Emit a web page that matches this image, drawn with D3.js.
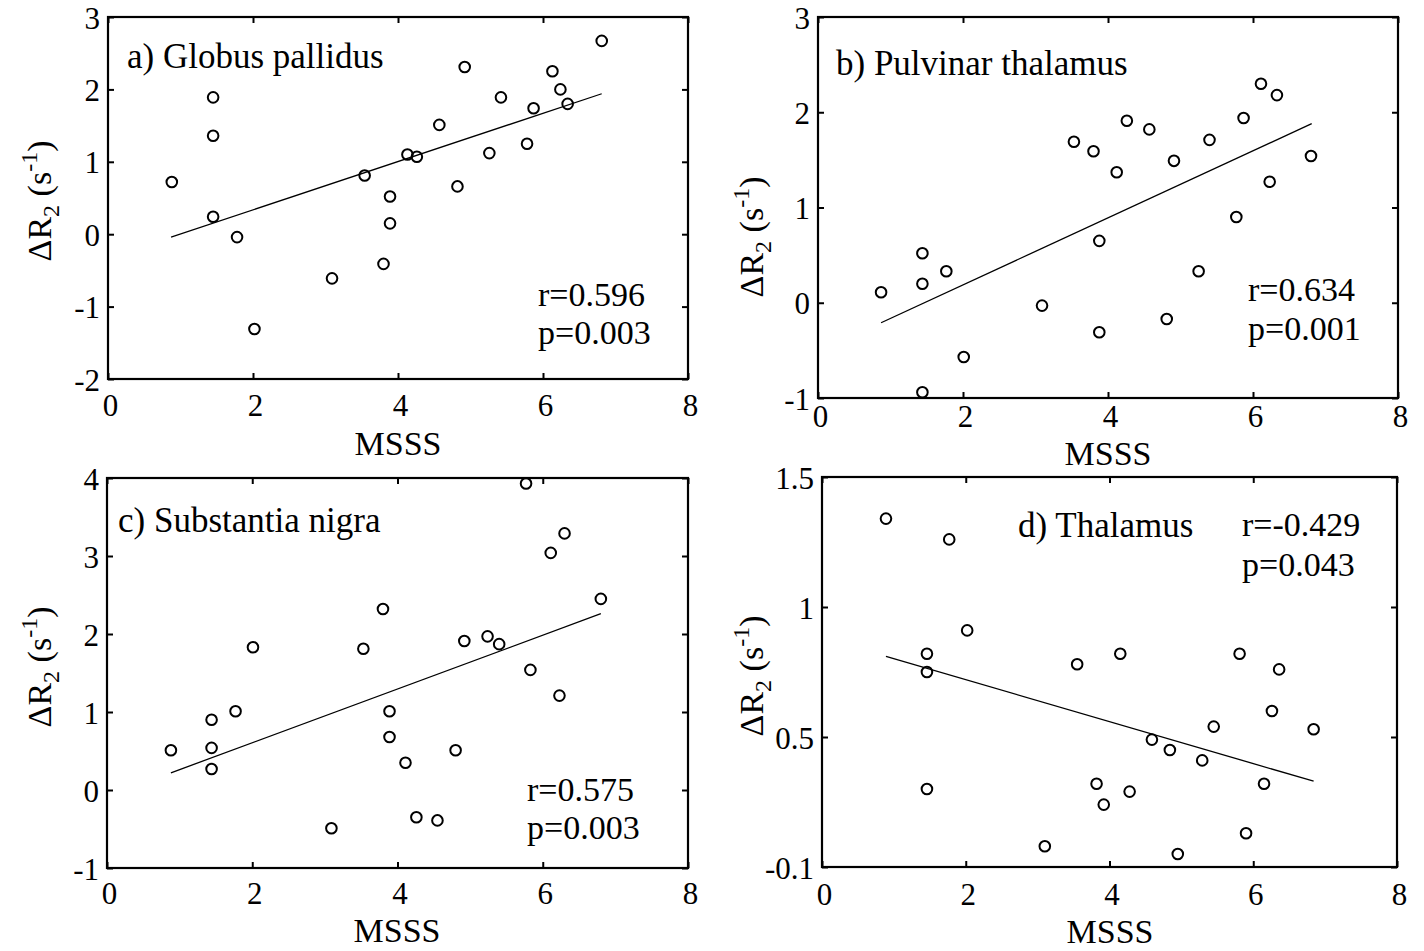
<!DOCTYPE html>
<html><head><meta charset="utf-8">
<script src="https://cdn.jsdelivr.net/npm/d3@7"></script>
<style>body{margin:0;background:#fff}svg text{font-family:"Liberation Serif","Times New Roman",serif;fill:#000}</style>
</head><body>
<svg id="chart" width="1424" height="951"></svg>
<script>
// ---------- data ----------
const xTicks = [0, 2, 4, 6, 8];
const xTickLabels = ["0", "2", "4", "6", "8"];

const yTicksA = [-2, -1, 0, 1, 2, 3];
const yTickLabelsA = ["-2", "-1", "0", "1", "2", "3"];
const yTicksB = [-1, 0, 1, 2, 3];
const yTickLabelsB = ["-1", "0", "1", "2", "3"];
const yTicksC = [-1, 0, 1, 2, 3, 4];
const yTickLabelsC = ["-1", "0", "1", "2", "3", "4"];
const yTicksD = [0, 0.5, 1, 1.5];
const yTickLabelsD = ["-0.1", "0.5", "1", "1.5"];

const msssA = [0.88,1.45,1.45,1.45,1.78,2.02,3.09,3.54,3.80,3.89,3.89,4.13,4.26,4.57,4.82,4.92,5.26,5.42,5.78,5.87,6.13,6.24,6.34,6.81];
const dR2A  = [0.72,1.89,1.36,0.24,-0.04,-1.31,-0.61,0.81,-0.41,0.52,0.15,1.10,1.07,1.51,0.66,2.31,1.12,1.89,1.25,1.74,2.25,2.00,1.80,2.67];
const fitA  = [[0.87, -0.04], [6.81, 1.94]];

const msssB = [0.87,1.44,1.44,1.44,1.77,2.01,3.09,3.53,3.80,3.88,3.88,4.12,4.26,4.57,4.81,4.91,5.25,5.40,5.77,5.87,6.11,6.23,6.33,6.80];
const dR2B  = [0.11,0.52,0.20,-0.94,0.33,-0.57,-0.03,1.69,1.59,0.65,-0.31,1.37,1.91,1.82,-0.17,1.49,0.33,1.71,0.90,1.94,2.30,1.27,2.18,1.54];
const fitB  = [[0.87, -0.21], [6.81, 1.88]];

const msssC = [0.88,1.44,1.44,1.44,1.77,2.01,3.09,3.53,3.80,3.89,3.89,4.11,4.26,4.55,4.80,4.92,5.24,5.40,5.77,5.83,6.11,6.23,6.30,6.80];
const dR2C  = [0.51,0.90,0.54,0.27,1.01,1.83,-0.49,1.81,2.32,1.01,0.68,0.35,-0.35,-0.39,0.51,1.91,1.97,1.87,3.93,1.54,3.04,1.21,3.29,2.45];
const fitC  = [[0.88, 0.22], [6.80, 2.26]];

const msssD = [0.89,1.46,1.46,1.46,1.77,2.02,3.10,3.55,3.82,3.92,4.15,4.28,4.59,4.84,4.95,5.29,5.45,5.81,5.90,6.15,6.26,6.36,6.84];
const dR2D  = [1.34,0.82,0.75,0.30,1.26,0.91,0.08,0.78,0.32,0.24,0.82,0.29,0.49,0.45,0.05,0.41,0.54,0.82,0.13,0.32,0.60,0.76,0.53];
const fitD  = [[0.89, 0.81], [6.84, 0.33]];

const titles = ["a) Globus pallidus", "b) Pulvinar thalamus", "c) Substantia nigra", "d) Thalamus"];
const statsR = ["r=0.596", "r=0.634", "r=0.575", "r=-0.429"];
const statsP = ["p=0.003", "p=0.001", "p=0.003", "p=0.043"];
const xLabel = "MSSS";

// ---------- layout ----------
const panels = [
  {box:{L:108,R:688,T:17,B:379}, dom:[-2,3], ticks:yTicksA, tl:yTickLabelsA, xs:msssA, ys:dR2A, fit:fitA,
   title:[127,68], stats:[538,306,344], ylab:[51,201], xlab:[398,455], xtb:416},
  {box:{L:818,R:1398,T:17,B:398}, dom:[-1,3], ticks:yTicksB, tl:yTickLabelsB, xs:msssB, ys:dR2B, fit:fitB,
   title:[836,75], stats:[1248,301,340], ylab:[763,237], xlab:[1108,465], xtb:427},
  {box:{L:107,R:688,T:478,B:868}, dom:[-1,4], ticks:yTicksC, tl:yTickLabelsC, xs:msssC, ys:dR2C, fit:fitC,
   title:[118,532], stats:[527,801,839], ylab:[51,667], xlab:[397,942], xtb:904},
  {box:{L:822,R:1397,T:477,B:867}, dom:[0,1.5], ticks:yTicksD, tl:yTickLabelsD, xs:msssD, ys:dR2D, fit:fitD,
   title:[1018,537], stats:[1242,536,576], ylab:[763,676], xlab:[1110,943], xtb:905}
];

const svg = d3.select("#chart");
const TICK = 6;

panels.forEach((p, i) => {
  const b = p.box;
  const x = d3.scaleLinear().domain([0, 8]).range([b.L, b.R]);
  const y = d3.scaleLinear().domain(p.dom).range([b.B, b.T]);
  const g = svg.append("g");

  const ax = [
    {a: d3.axisBottom(x).tickValues(xTicks).tickFormat((d,k)=>xTickLabels[k]), t:`translate(0,${b.B})`, kind:"x"},
    {a: d3.axisTop(x).tickValues(xTicks).tickFormat(""), t:`translate(0,${b.T})`},
    {a: d3.axisLeft(y).tickValues(p.ticks).tickFormat((d,k)=>p.tl[k]), t:`translate(${b.L},0)`, kind:"y"},
    {a: d3.axisRight(y).tickValues(p.ticks).tickFormat(""), t:`translate(${b.R},0)`}
  ];
  ax.forEach(o => {
    const ag = g.append("g").attr("transform", o.t).call(o.a.tickSizeInner(-TICK).tickSizeOuter(0));
    ag.select(".domain").remove();
    ag.selectAll(".tick line").attr("stroke", "#000").attr("stroke-width", 2);
    ag.selectAll(".tick text").attr("font-size", 31).attr("fill", "#000")
      .style("font-family", '"Liberation Serif","Times New Roman",serif');
    if (o.kind === "x") ag.selectAll(".tick text").attr("y", p.xtb - b.B).attr("dy", 0).attr("dx", 2);
    if (o.kind === "y") ag.selectAll(".tick text").attr("x", -8).attr("dy", 0).attr("y", 11);
  });

  g.append("rect").attr("x", b.L).attr("y", b.T).attr("width", b.R - b.L).attr("height", b.B - b.T)
    .attr("fill", "none").attr("stroke", "#000").attr("stroke-width", 2.2);

  g.append("path").datum(p.fit)
    .attr("d", d3.line().x(d => x(d[0])).y(d => y(d[1])))
    .attr("fill", "none").attr("stroke", "#000").attr("stroke-width", 1.3);

  g.selectAll("circle.pt").data(p.xs.map((v, k) => [v, p.ys[k]])).join("circle")
    .attr("class", "pt").attr("cx", d => x(d[0])).attr("cy", d => y(d[1])).attr("r", 5.3)
    .attr("fill", "none").attr("stroke", "#000").attr("stroke-width", 2);

  g.append("text").attr("x", p.title[0]).attr("y", p.title[1]).attr("font-size", 35).text(titles[i]);
  g.append("text").attr("x", p.stats[0]).attr("y", p.stats[1]).attr("font-size", 34).text(statsR[i]);
  g.append("text").attr("x", p.stats[0]).attr("y", p.stats[2]).attr("font-size", 34).text(statsP[i]);
  g.append("text").attr("x", p.xlab[0]).attr("y", p.xlab[1]).attr("font-size", 34)
    .attr("text-anchor", "middle").text(xLabel);

  const yl = g.append("text").attr("transform", `translate(${p.ylab[0]},${p.ylab[1]}) rotate(-90)`)
    .attr("text-anchor", "middle").attr("font-size", 34);
  yl.append("tspan").text("ΔR");
  yl.append("tspan").attr("font-size", 24).attr("dy", 8).text("2");
  yl.append("tspan").attr("dy", -8).text(" (s");
  yl.append("tspan").attr("font-size", 24).attr("dy", -14).text("-1");
  yl.append("tspan").attr("dy", 14).text(")");
});
</script>
</body></html>
